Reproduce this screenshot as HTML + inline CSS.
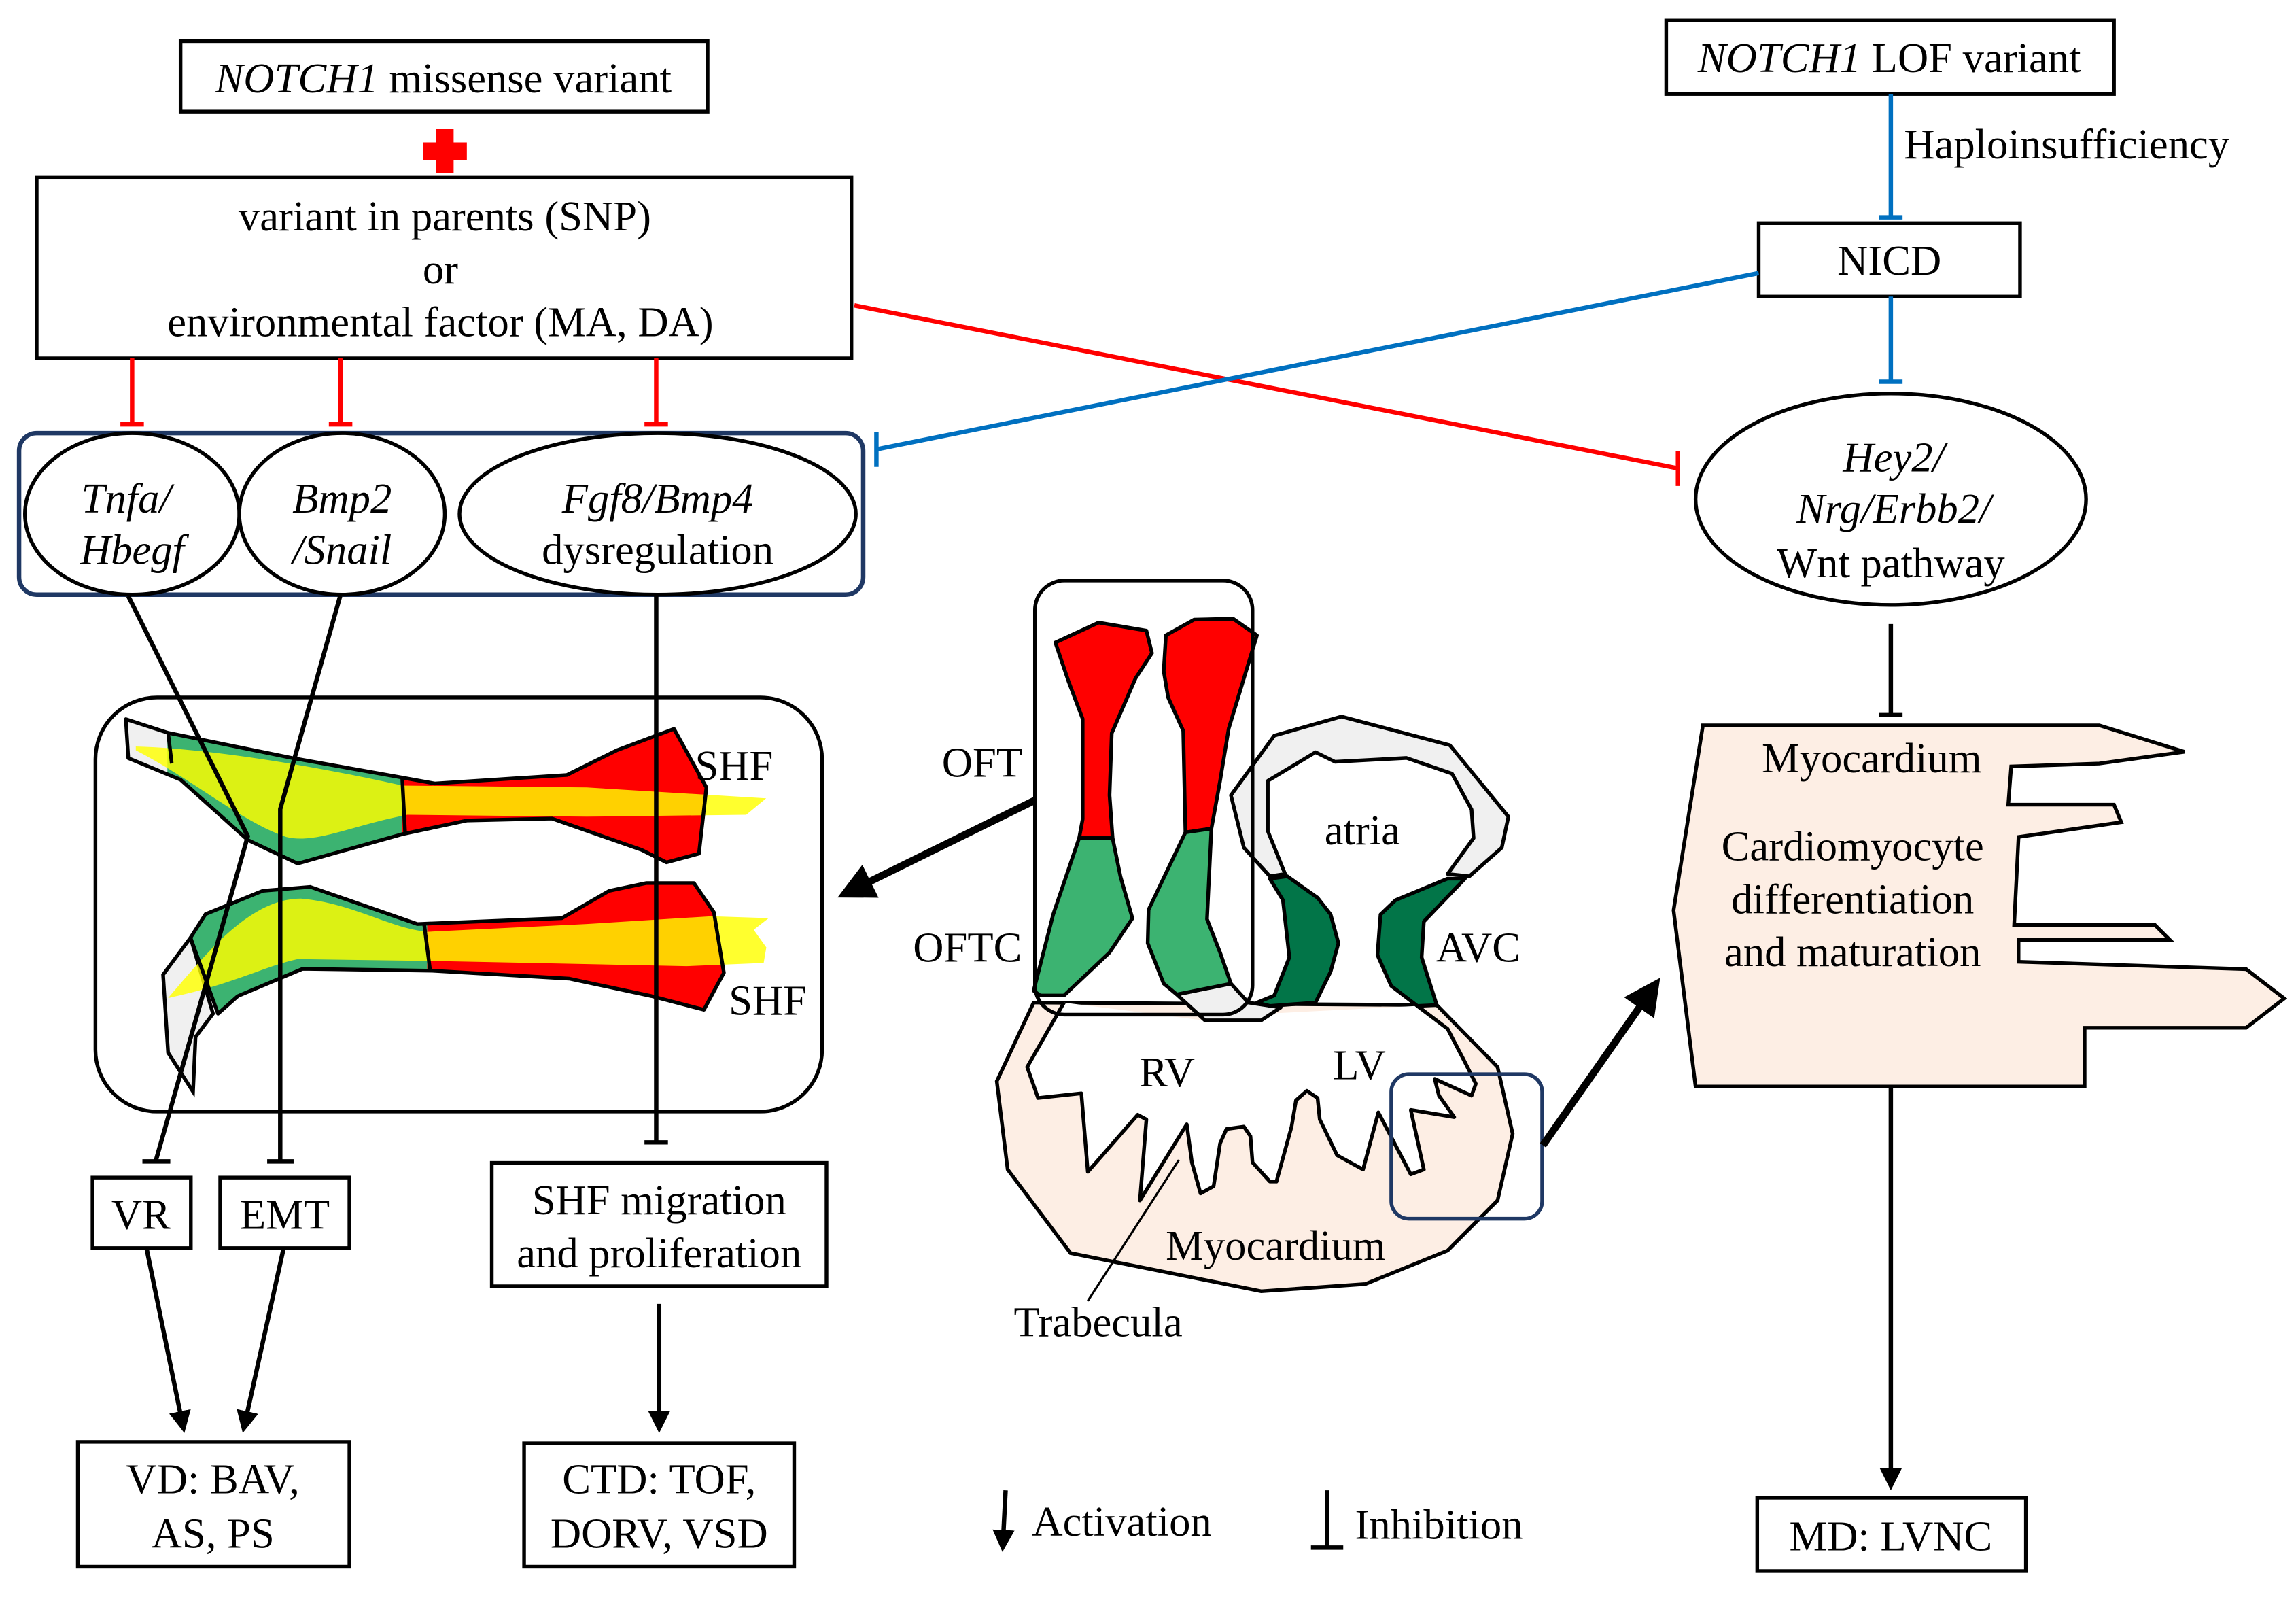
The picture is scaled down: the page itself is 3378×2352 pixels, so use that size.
<!DOCTYPE html>
<html><head><meta charset="utf-8"><style>
html,body{margin:0;padding:0;background:#fff;}
svg{display:block;}
svg text{font-family:"Liberation Serif","Times New Roman",serif;font-size:29px;fill:#000;}
</style></head><body>
<svg width="3378" height="2352" viewBox="0 0 1564 1089" preserveAspectRatio="none" xmlns="http://www.w3.org/2000/svg" font-family="Liberation Serif, serif" font-size="29">
<defs>
<marker id="ah" viewBox="0 0 10 10" refX="8" refY="5" markerWidth="5" markerHeight="5" orient="auto"><path d="M0,0 L10,5 L0,10 z" fill="#000"/></marker>
<clipPath id="t1"><polygon points="85.7,489.8 114.5,499.1 199.4,516.3 274.1,529.6 296.2,533.6 386.1,527.8 420.1,511 459.1,496.4 481.2,536.3 476.1,581.4 454,587.3 437,578.8 376,557.5 318.2,558.8 274.1,568.1 202.8,588.1 168.8,572.1 123,531 87.4,516.3"/></clipPath>
<clipPath id="t2"><polygon points="129.8,638.6 140,622.6 179,606.7 211.3,604 284.3,629.3 382.7,625.3 415,606.7 440.4,601.4 472.7,601.4 486.3,621.3 493.1,662.5 479.5,687.7 443.8,678.4 387.8,666.5 294.5,661.1 206.2,659.8 162,678.4 148.5,690.4"/></clipPath>
</defs>
<rect width="1564" height="1089" fill="#fff"/>
<g fill="none" stroke="#000" stroke-width="2.5">
<rect x="123" y="28" width="359" height="48"/>
<rect x="25" y="121" width="555" height="123"/>
<rect x="1135" y="14" width="305" height="50"/>
<rect x="1198" y="152" width="178" height="50"/>
<rect x="63" y="802" width="67" height="48"/>
<rect x="150" y="802" width="88" height="48"/>
<rect x="335" y="792" width="228" height="84"/>
<rect x="53" y="982" width="185" height="85"/>
<rect x="357" y="983" width="184" height="84"/>
<rect x="1197" y="1020" width="183" height="50"/>
<rect x="65" y="475" width="495" height="282" rx="42"/>
</g>
<text x="302" y="63" text-anchor="middle"><tspan font-style="italic">NOTCH1</tspan> missense variant</text>
<path d="M297,88h12v9h9v12h-9v9h-12v-9h-9v-12h9z" fill="#f00"/>
<text x="303" y="157" text-anchor="middle">variant in parents (SNP)</text>
<text x="300" y="193" text-anchor="middle">or</text>
<text x="300" y="229" text-anchor="middle">environmental factor (MA, DA)</text>
<text x="1287" y="49" text-anchor="middle"><tspan font-style="italic">NOTCH1</tspan> LOF variant</text>
<text x="1297" y="108">Haploinsufficiency</text>
<text x="1287" y="187" text-anchor="middle">NICD</text>
<g stroke="#f00" stroke-width="3">
<line x1="90" y1="244" x2="90" y2="289"/><line x1="82" y1="289" x2="98" y2="289"/>
<line x1="232" y1="244" x2="232" y2="289"/><line x1="224" y1="289" x2="240" y2="289"/>
<line x1="447" y1="244" x2="447" y2="289"/><line x1="439" y1="289" x2="455" y2="289"/>
<line x1="582" y1="208" x2="1143" y2="319"/><line x1="1143" y1="307" x2="1143" y2="331"/>
</g>
<g stroke="#0070c0" stroke-width="3">
<line x1="1288" y1="64" x2="1288" y2="148"/><line x1="1280" y1="148" x2="1296" y2="148"/>
<line x1="1288" y1="202" x2="1288" y2="260"/><line x1="1280" y1="260" x2="1296" y2="260"/>
<line x1="1198" y1="186" x2="597" y2="306"/><line x1="597" y1="294" x2="597" y2="318"/>
</g>
<rect x="13" y="295" width="575" height="110" rx="12" fill="none" stroke="#1f3864" stroke-width="3"/>
<g fill="#fff" stroke="#000" stroke-width="2.5">
<ellipse cx="90" cy="350" rx="73" ry="55"/>
<ellipse cx="233" cy="350" rx="70" ry="55"/>
<ellipse cx="448" cy="350" rx="135" ry="55"/>
<ellipse cx="1288" cy="340" rx="133" ry="72"/>
</g>
<text x="86" y="349" text-anchor="middle" font-style="italic">Tnfa/</text>
<text x="90" y="384" text-anchor="middle" font-style="italic">Hbegf</text>
<text x="233" y="349" text-anchor="middle" font-style="italic">Bmp2</text>
<text x="233" y="384" text-anchor="middle" font-style="italic">/Snail</text>
<text x="448" y="349" text-anchor="middle" font-style="italic">Fgf8/Bmp4</text>
<text x="448" y="384" text-anchor="middle">dysregulation</text>
<text x="1290" y="321" text-anchor="middle" font-style="italic">Hey2/</text>
<text x="1290" y="356" text-anchor="middle" font-style="italic">Nrg/Erbb2/</text>
<text x="1288" y="393" text-anchor="middle">Wnt pathway</text>
<g clip-path="url(#t1)">
<rect x="80" y="480" width="34" height="120" fill="#f0f0f0"/>
<rect x="114" y="480" width="160" height="120" fill="#3cb371"/>
<rect x="274" y="480" width="220" height="120" fill="#f00"/>
</g>
<g clip-path="url(#t2)">
<rect x="100" y="590" width="191" height="120" fill="#3cb371"/>
<rect x="291" y="590" width="210" height="120" fill="#f00"/>
</g>
<polygon points="129.8,638.6 145.1,690.4 133.2,706.3 131.5,743.5 114.5,716.9 111.1,663.8" fill="#f0f0f0" stroke="#000" stroke-width="2.5"/>
<path d="M92.5,508.4 C150,510 230,525 274,535 L399.7,536.3 L521.9,543.7 L508.3,554.9 L399.7,556.2 L277.5,554.9 C240,562 215,575 195,570 C165,560 130,530 92.5,511 z" fill="#ff0" opacity="0.82"/>
<path d="M114.5,679.7 C140,650 170,612 205,612 C240,615 265,632 291,634.6 L399.7,629.3 L484.6,624 L523.6,625.3 L513.4,633.2 L522,645.2 L520.2,655.8 L467.6,658 L297.9,654.5 L202.8,653.2 C180,658 160,670 114.5,679.7 z" fill="#ff0" opacity="0.82"/>
<g fill="none" stroke="#000" stroke-width="2.5" stroke-linejoin="round">
<polygon points="85.7,489.8 114.5,499.1 199.4,516.3 274.1,529.6 296.2,533.6 386.1,527.8 420.1,511 459.1,496.4 481.2,536.3 476.1,581.4 454,587.3 437,578.8 376,557.5 318.2,558.8 274.1,568.1 202.8,588.1 168.8,572.1 123,531 87.4,516.3"/>
<line x1="114.5" y1="499" x2="117" y2="520"/>
<line x1="274" y1="530" x2="276" y2="568"/>
<polygon points="129.8,638.6 140,622.6 179,606.7 211.3,604 284.3,629.3 382.7,625.3 415,606.7 440.4,601.4 472.7,601.4 486.3,621.3 493.1,662.5 479.5,687.7 443.8,678.4 387.8,666.5 294.5,661.1 206.2,659.8 162,678.4 148.5,690.4"/>
<line x1="289" y1="630" x2="293" y2="661"/>
</g>
<text x="500" y="531" text-anchor="middle">SHF</text>
<text x="523" y="691" text-anchor="middle">SHF</text>
<g fill="none" stroke="#000" stroke-width="3">
<polyline points="87.4,406 168.8,569.5 106,791"/>
<line x1="97" y1="791" x2="116" y2="791"/>
<polyline points="231.7,406 190.9,551 190.9,791"/>
<line x1="182" y1="791" x2="200" y2="791"/>
<line x1="447" y1="405" x2="447" y2="778"/>
<line x1="439" y1="778" x2="455" y2="778"/>
<line x1="1288" y1="425" x2="1288" y2="487"/>
<line x1="1280" y1="487" x2="1296" y2="487"/>
</g>
<text x="96" y="837" text-anchor="middle">VR</text>
<text x="194" y="837" text-anchor="middle">EMT</text>
<text x="449" y="827" text-anchor="middle">SHF migration</text>
<text x="449" y="863" text-anchor="middle">and proliferation</text>
<text x="145" y="1017" text-anchor="middle">VD: BAV,</text>
<text x="145" y="1054" text-anchor="middle">AS, PS</text>
<text x="449" y="1017" text-anchor="middle">CTD: TOF,</text>
<text x="449" y="1054" text-anchor="middle">DORV, VSD</text>
<text x="1288" y="1056" text-anchor="middle">MD: LVNC</text>
<g stroke="#000" stroke-width="3" fill="none">
<line x1="100" y1="851" x2="125" y2="973" marker-end="url(#ah)"/>
<line x1="193" y1="851" x2="166" y2="973" marker-end="url(#ah)"/>
<line x1="449" y1="888" x2="449" y2="973" marker-end="url(#ah)"/>
<line x1="1288" y1="740" x2="1288" y2="1012" marker-end="url(#ah)"/>
<line x1="685" y1="1015" x2="683" y2="1054" marker-end="url(#ah)"/>
<line x1="904" y1="1015" x2="904" y2="1054"/>
<line x1="893" y1="1054" x2="915" y2="1054"/>
</g>
<text x="703" y="1046">Activation</text>
<text x="923" y="1048">Inhibition</text>
<polygon points="1160,494 1430,494 1488,512 1430,520 1370,522 1368,548 1440,548 1445,560 1375,570 1372,630 1468,630 1478,640 1375,640 1375,655 1530,660 1556,680 1530,700 1420,700 1420,740 1155,740 1140,620" fill="#fdeee4" stroke="#000" stroke-width="2.5"/>
<text x="1275" y="526" text-anchor="middle">Myocardium</text>
<text x="1262" y="586" text-anchor="middle">Cardiomyocyte</text>
<text x="1262" y="622" text-anchor="middle">differentiation</text>
<text x="1262" y="658" text-anchor="middle">and maturation</text>
<polygon points="704.1,682.8 679,736.4 686.4,796.5 729.2,853.4 859.1,879.4 930,874.5 986.1,851.7 1020.1,817.6 1030.4,772.2 1020.1,726.7 978.7,684.5" fill="#fdeee4" stroke="#000" stroke-width="2.5"/>
<polygon points="724.8,682.8 699.7,726.7 707.1,747.8 736.6,744.6 741,798.1 775,759.2 780.9,762.4 776.5,817.6 808.4,765.7 811.9,791.7 817.8,812.8 826.7,807.9 831.1,778.7 835.5,768.9 847.3,767.3 851.8,773.8 853.2,791.7 865,804.7 869.5,804.7 879.8,767.3 882.8,749.4 890.2,742.9 897.5,747.8 899,762.4 910.8,786.8 928.5,796.5 938.9,757.6 961,799.8 969.9,796.5 961,755.9 990.6,760.8 980.2,746.2 977.3,734.8 1002.4,746.2 1005.3,738.1 997.9,723.4 986.1,700.7 965.5,685.1 870,690 820,695 724.8,682.8" fill="#fff"/>
<polyline points="724.8,682.8 699.7,726.7 707.1,747.8 736.6,744.6 741,798.1 775,759.2 780.9,762.4 776.5,817.6 808.4,765.7 811.9,791.7 817.8,812.8 826.7,807.9 831.1,778.7 835.5,768.9 847.3,767.3 851.8,773.8 853.2,791.7 865,804.7 869.5,804.7 879.8,767.3 882.8,749.4 890.2,742.9 897.5,747.8 899,762.4 910.8,786.8 928.5,796.5 938.9,757.6 961,799.8 969.9,796.5 961,755.9 990.6,760.8 980.2,746.2 977.3,734.8 1002.4,746.2 1005.3,738.1 997.9,723.4 986.1,700.7 965.5,685.1" fill="none" stroke="#000" stroke-width="2.5" stroke-linejoin="round"/>
<g stroke="#000" stroke-width="2.5" stroke-linejoin="round">
<polygon points="865,596.8 847.3,577.3 838.5,541.6 868,501 913.8,488 987.6,507.5 1027.5,556.2 1023,577.3 1000.9,596.8 986.1,595.2 1003.8,570.8 1002.4,551.3 989.1,526.9 958.1,516.2 909.4,518.8 896.1,512.3 863.6,531.8 863.6,565.9 875.4,595.2" fill="#f0f0f0"/>
<polygon points="801.6,677.3 838.5,669.9 850.3,682.8 872.4,686.1 859.1,694.9 820.8,694.9" fill="#f0f0f0"/>
<polygon points="865,598.4 876.9,596.8 897.5,611.4 906.4,622.8 911.7,642.3 906.4,661.7 896.1,682.8 865,685.1 856.2,682.8 868,678 878.3,652 873.9,613" fill="#027548"/>
<polygon points="986.1,598.4 997.9,598.4 969.9,627.6 968.4,652 978.7,684.5 965.5,685.1 947.7,671.5 938.3,650.4 940.4,622.8 950.7,613" fill="#027548"/>
<polygon points="718.9,437.6 748.4,424 780.9,429.5 784.7,444.8 773.5,462 757.3,499.3 755.8,541.6 757.9,570.8 735.1,570.8 737.5,557.8 737.5,489.6 727.7,463.6" fill="#f00"/>
<polygon points="735.1,570.8 757.9,570.8 763.2,596.8 771.4,625.4 755.8,648.7 724.8,678 708.5,678 704.1,674.7 717.4,622.8" fill="#3cb371"/>
<polygon points="794.2,432.7 813.4,422 840,421.4 856.2,432.7 837,496.1 831.1,531.8 825.2,564.3 807.5,566.9 806,497.7 795.7,475 792.7,457.1" fill="#f00"/>
<polygon points="807.5,566.9 825.2,564.3 822.2,626 831.1,648.7 838.5,669.9 801.6,677.3 792.7,669.9 781.8,642.3 782.4,619.5" fill="#3cb371"/>
</g>
<rect x="705" y="395.4" width="148.2" height="295.6" rx="20" fill="none" stroke="#000" stroke-width="2.5"/>
<rect x="947.7" y="731.6" width="102.8" height="98.4" rx="12" fill="none" stroke="#1f3864" stroke-width="2.5"/>
<line x1="803" y1="790" x2="741" y2="886" stroke="#000" stroke-width="1.5"/>
<text x="669" y="529" text-anchor="middle">OFT</text>
<text x="659" y="655" text-anchor="middle">OFTC</text>
<text x="928" y="575" text-anchor="middle">atria</text>
<text x="1007" y="655" text-anchor="middle">AVC</text>
<text x="795" y="740" text-anchor="middle">RV</text>
<text x="926" y="735" text-anchor="middle">LV</text>
<text x="869" y="858" text-anchor="middle">Myocardium</text>
<text x="748" y="910" text-anchor="middle">Trabecula</text>
<g stroke="#000" stroke-width="5" fill="none">
<line x1="705" y1="545" x2="575" y2="609" marker-end="url(#ah)"/>
<line x1="1051" y1="780" x2="1128" y2="670" marker-end="url(#ah)"/>
</g>
</svg>
</body></html>
